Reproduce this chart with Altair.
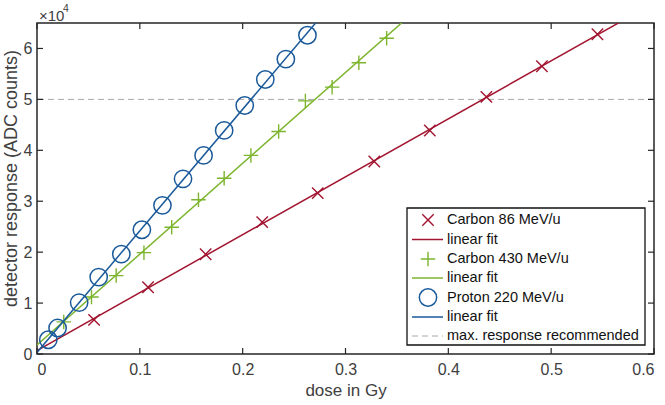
import altair as alt
import pandas as pd

# Measured detector response vs. delivered dose
c86_dose = [0.0555, 0.108, 0.164, 0.219, 0.273, 0.328, 0.382, 0.437, 0.491, 0.545]
c86_counts = [6700, 13100, 19600, 25900, 31600, 37800, 43900, 50500, 56500, 62800]

c430_dose = [0.026, 0.053, 0.077, 0.104, 0.131, 0.157, 0.182, 0.208, 0.235, 0.261, 0.287, 0.313, 0.340]
c430_counts = [6300, 11200, 15400, 19900, 24900, 30300, 34500, 39000, 43700, 49700, 52400, 57200, 62000]

p220_dose = [0.011, 0.020, 0.041, 0.060, 0.082, 0.102, 0.122, 0.142, 0.162, 0.182, 0.202, 0.222, 0.242, 0.263]
p220_counts = [2800, 5100, 10100, 15100, 19600, 24400, 29200, 34400, 39000, 43900, 48800, 53900, 57900, 62600]

max_response = 50000

x_ticks = [0, 0.1, 0.2, 0.3, 0.4, 0.5, 0.6]
y_ticks = [0, 10000, 20000, 30000, 40000, 50000, 60000]

legend_labels = ["Carbon 86 MeV/u", "linear fit", "Carbon 430 MeV/u", "linear fit",
                 "Proton 220 MeV/u", "linear fit", "max. response recommended"]

RED = "#A2142F"
GREEN = "#7DB52F"
BLUE = "#1A5A9A"
AX = "#262626"
LBL = "#404040"
FONT = "Liberation Sans"

W, H = 617, 331
X_SHAPE = "M-1,-1L1,1M-1,1L1,-1"
PLUS_SHAPE = "M-1,0L1,0M0,-1L0,1"

xscale = alt.Scale(domain=[0, 0.6], nice=False, zero=False)
yscale = alt.Scale(domain=[0, 65000], nice=False, zero=False)

x_axis = alt.Axis(values=x_ticks, grid=False, domain=False, ticks=False,
                  labelExpr="datum.value == 0 ? '0' : format(datum.value, '.1f')",
                  labelFontSize=16, labelColor=LBL, labelPadding=7,
                  titleFontSize=17, titleFontWeight="normal", titleColor=LBL,
                  titlePadding=5, labelFont=FONT, titleFont=FONT)
y_axis = alt.Axis(values=y_ticks, grid=False, domain=False, ticks=False,
                  labelExpr="format(datum.value / 10000, 'd')",
                  labelFontSize=16, labelColor=LBL, labelPadding=5,
                  titleFontSize=18, titleFontWeight="normal", titleColor=LBL,
                  titlePadding=3, titleY=155, labelFont=FONT, titleFont=FONT)

X_TITLE = "dose in Gy"
Y_TITLE = "detector response (ADC counts)"


def series_df(dose, counts):
    return pd.DataFrame({"dose": dose, "counts": counts})


def enc_x():
    return alt.X("dose:Q", scale=xscale, axis=x_axis, title=X_TITLE)


def enc_y():
    return alt.Y("counts:Q", scale=yscale, axis=y_axis, title=Y_TITLE)


layers = []

# threshold line
layers.append(
    alt.Chart(pd.DataFrame({"counts": [max_response]}))
    .mark_rule(color="#a8a8a8", strokeWidth=1, strokeDash=[6, 4])
    .encode(y=enc_y())
)

series = [
    (c86_dose, c86_counts, RED, X_SHAPE, 130, 1.4),
    (c430_dose, c430_counts, GREEN, PLUS_SHAPE, 210, 1.4),
    (p220_dose, p220_counts, BLUE, "circle", 300, 1.5),
]

for dose, counts, color, shape, size, sw in series:
    df = series_df(dose, counts)
    base = alt.Chart(df)
    fit = (
        base.transform_regression("dose", "counts", method="linear", extent=[0, 0.6])
        .mark_line(color=color, strokeWidth=1.5, clip=True)
        .encode(x=enc_x(), y=enc_y())
    )
    pts = (
        base.mark_point(shape=shape, size=size, color=color, strokeWidth=sw,
                        filled=False, opacity=1, clip=True)
        .encode(x=enc_x(), y=enc_y())
    )
    layers += [fit, pts]

# inward-pointing ticks on all four sides
xt = pd.DataFrame({"dose": x_ticks})
yt = pd.DataFrame({"counts": y_ticks})
tick_len = 6
layers.append(alt.Chart(xt).mark_rule(color=AX, strokeWidth=1.2)
              .encode(x=enc_x(), y=alt.value(H - tick_len), y2=alt.value(H)))
layers.append(alt.Chart(xt).mark_rule(color=AX, strokeWidth=1.2)
              .encode(x=enc_x(), y=alt.value(0), y2=alt.value(tick_len)))
layers.append(alt.Chart(yt).mark_rule(color=AX, strokeWidth=1.2)
              .encode(y=enc_y(), x=alt.value(0), x2=alt.value(tick_len)))
layers.append(alt.Chart(yt).mark_rule(color=AX, strokeWidth=1.2)
              .encode(y=enc_y(), x=alt.value(W - tick_len), x2=alt.value(W)))

# exponent label above the y axis
one = pd.DataFrame({"k": [0]})
layers.append(alt.Chart(one).mark_text(text="\u00d710", align="left", baseline="middle",
                                       fontSize=15, font=FONT, color=LBL)
              .encode(x=alt.value(2), y=alt.value(-7)))
layers.append(alt.Chart(one).mark_text(text="4", align="left", baseline="middle",
                                       fontSize=10.5, font=FONT, color=LBL)
              .encode(x=alt.value(26), y=alt.value(-14)))

# legend box
lx0, lx1, ly0, ly1 = 370, 608, 185, 322
layers.append(alt.Chart(one).mark_rect(fill="white", stroke="#111", strokeWidth=1.3)
              .encode(x=alt.value(lx0), x2=alt.value(lx1), y=alt.value(ly0), y2=alt.value(ly1)))

row_y = [197, 216.5, 236, 255, 274.5, 294, 313]
sym_x = 391
line_x0, line_x1 = 375, 406
text_x = 410

legend_syms = [(X_SHAPE, RED, 130, 1.4), None, (PLUS_SHAPE, GREEN, 210, 1.4), None,
               ("circle", BLUE, 300, 1.5), None, None]
legend_lines = [None, (RED, None), None, (GREEN, None), None, (BLUE, None), ("#a8a8a8", [6, 4])]

for i, label in enumerate(legend_labels):
    yv = row_y[i]
    if legend_syms[i] is not None:
        shape, color, size, sw = legend_syms[i]
        layers.append(alt.Chart(one).mark_point(shape=shape, size=size, color=color,
                                                strokeWidth=sw, filled=False, opacity=1)
                      .encode(x=alt.value(sym_x), y=alt.value(yv)))
    if legend_lines[i] is not None:
        color, dash = legend_lines[i]
        kw = dict(color=color, strokeWidth=1.5)
        if dash:
            kw = dict(color=color, strokeWidth=1, strokeDash=dash)
        layers.append(alt.Chart(one).mark_rule(**kw)
                      .encode(x=alt.value(line_x0), x2=alt.value(line_x1), y=alt.value(yv)))
    layers.append(alt.Chart(one).mark_text(text=label, align="left", baseline="middle",
                                           fontSize=14.5, font=FONT, color="#111")
                  .encode(x=alt.value(text_x), y=alt.value(yv)))

chart = (
    alt.layer(*layers)
    .properties(width=W, height=H, autosize=alt.AutoSizeParams(type="none"),
                padding={"left": 37, "top": 23, "right": 11, "bottom": 51},
                background="white")
    .configure_view(stroke=AX, strokeWidth=1.5)
)

chart.save("out.html", embed_options={"renderer": "svg", "actions": False})
